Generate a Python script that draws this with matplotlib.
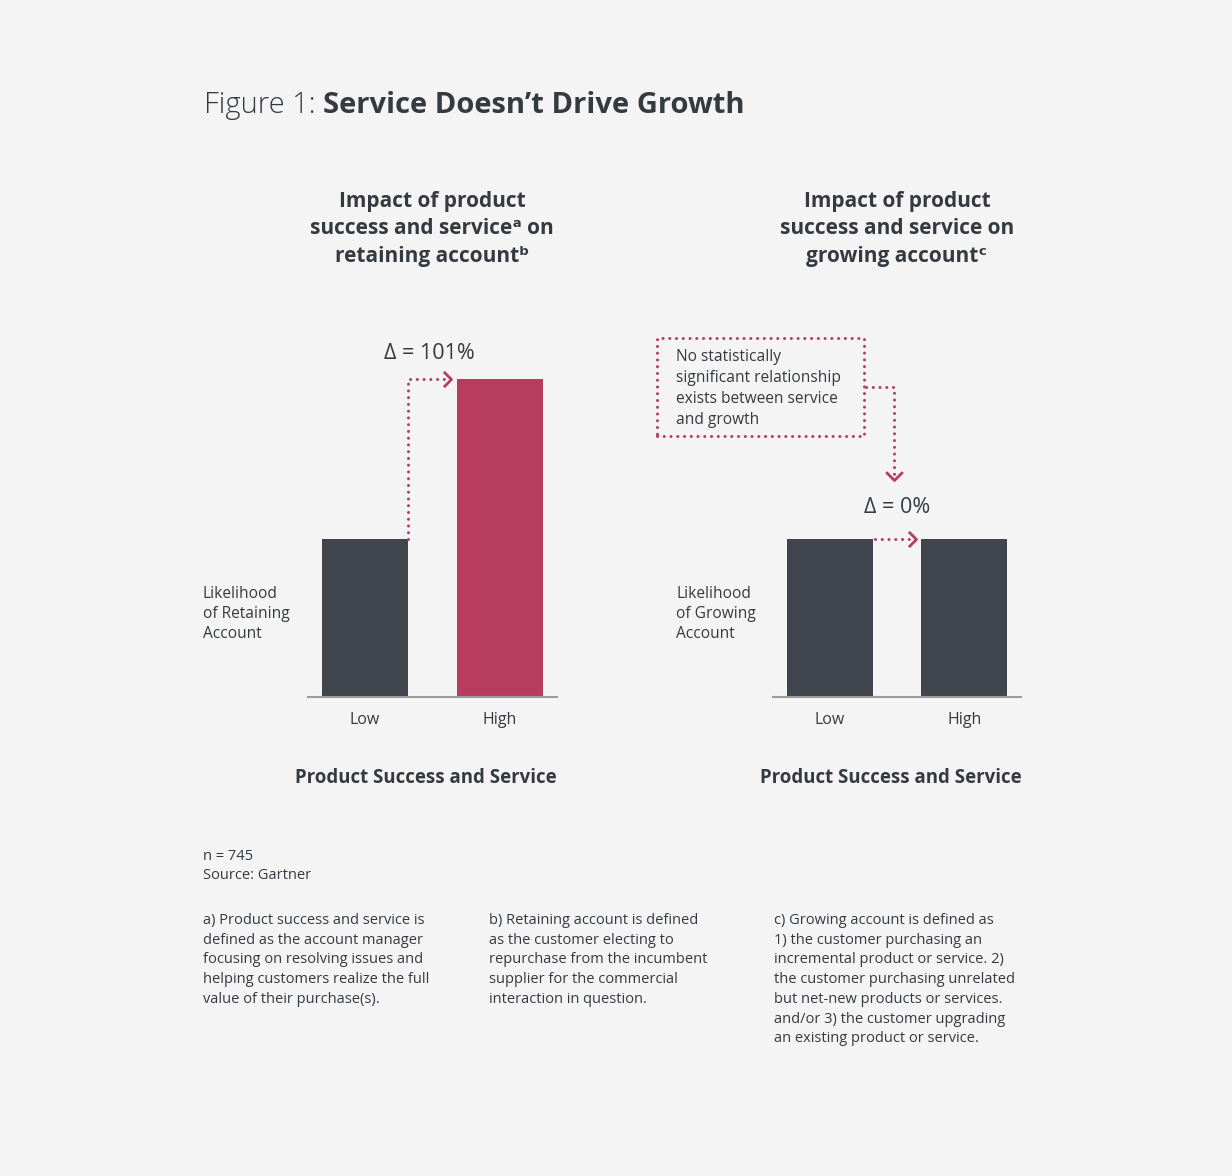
import matplotlib
matplotlib.use('Agg')
import matplotlib.pyplot as plt
from matplotlib.patches import Rectangle
from matplotlib.path import Path
from matplotlib.markers import MarkerStyle

# data
categories = ['Low', 'High']
retain_values = [1.00, 2.01]
grow_values = [1.00, 1.00]

BG = '#f4f4f4'
DARK = '#40444c'
RED = '#b83c5e'
TXT = '#353a40'
AXIS = '#9c9c9c'

W, H = 1232, 1176
plt.rcParams['font.family'] = ['Open Sans', 'DejaVu Sans']
plt.rcParams['text.color'] = TXT


def fx(px):
    return px / W


def fy(py):
    return 1 - py / H


DOTS = (0, (0.01, 2.2))
chev_right = MarkerStyle(Path([(-1, 1), (0, 0), (-1, -1)],
                              [Path.MOVETO, Path.LINETO, Path.LINETO]))
chev_down = MarkerStyle(Path([(-1, 1), (0, 0), (1, 1)],
                             [Path.MOVETO, Path.LINETO, Path.LINETO]))

fig = plt.figure(figsize=(W / 100, H / 100), dpi=100, facecolor=BG)

bar_width = 0.64
ylim_top = 2.32
xl = (-0.422, 1.422)


def make_axes(left_px, right_px, values, colors):
    ax = fig.add_axes([fx(left_px), fy(697), (right_px - left_px) / W, (697 - 330) / H])
    ax.set_facecolor('none')
    x = list(range(len(values)))
    ax.bar(x, values, width=bar_width, color=colors)
    ax.set_xlim(*xl)
    ax.set_ylim(0, ylim_top)
    for s in ['top', 'right', 'left']:
        ax.spines[s].set_visible(False)
    ax.spines['bottom'].set_color(AXIS)
    ax.spines['bottom'].set_linewidth(1.5)
    ax.set_yticks([])
    ax.set_xticks(x)
    ax.set_xticklabels(categories)
    ax.tick_params(axis='x', length=0, pad=11, labelsize=11.5, labelcolor=TXT)
    return ax


ax1 = make_axes(308, 557, retain_values, [DARK, RED])
ax2 = make_axes(773, 1021, grow_values, [DARK, DARK])

# title
t1 = fig.text(fx(204), fy(120), 'Figure 1: ', fontsize=21, fontweight='light',
              ha='left', va='bottom')
ax1.annotate('Service Doesn\u2019t Drive Growth', xy=(1, 0), xycoords=t1,
             fontsize=21, fontweight='bold', ha='left', va='bottom',
             annotation_clip=False)

# panel titles
fig.text(fx(432), fy(229), 'Impact of product\nsuccess and service\u1d43 on\nretaining account\u1d47',
         ha='center', va='center', fontsize=15, fontweight='bold', linespacing=1.4)
fig.text(fx(897), fy(229), 'Impact of product\nsuccess and service on\ngrowing account\u1d9c',
         ha='center', va='center', fontsize=15, fontweight='bold', linespacing=1.4)

# y labels
fig.text(fx(203), fy(614), 'Likelihood\nof Retaining\nAccount', ha='left', va='center',
         fontsize=11.2, linespacing=1.35)
fig.text(fx(676), fy(614), 'Likelihood\nof Growing\nAccount', ha='left', va='center',
         fontsize=11.2, linespacing=1.35)

# x titles
fig.text(fx(426), fy(778), 'Product Success and Service', ha='center', va='center',
         fontsize=13.4, fontweight='bold')
fig.text(fx(891), fy(778), 'Product Success and Service', ha='center', va='center',
         fontsize=13.4, fontweight='bold')

# left panel arrow and delta
low, high = retain_values
edge = bar_width / 2
tip = 1 - edge - 0.04
ax1.plot([edge, edge, tip - 0.03], [low, high, high], color=RED, lw=2.2,
         linestyle=DOTS, dash_capstyle='round', clip_on=False)
ax1.plot([tip], [high], marker=chev_right, markersize=11, markerfacecolor='none',
         markeredgecolor=RED, markeredgewidth=2, clip_on=False)
d1 = (high / low - 1) * 100
ax1.text(0.48, high + 0.16, f'\u0394 = {d1:.0f}%', ha='center', va='center', fontsize=15.5)

# right panel arrow and delta
low2, high2 = grow_values
ax2.plot([edge + 0.02, tip - 0.03], [low2, high2], color=RED, lw=2.2,
         linestyle=DOTS, dash_capstyle='round', clip_on=False)
ax2.plot([tip], [high2], marker=chev_right, markersize=11, markerfacecolor='none',
         markeredgecolor=RED, markeredgewidth=2, clip_on=False)
d2 = (high2 / low2 - 1) * 100
ax2.text(0.5, high2 + 0.197, f'\u0394 = {d2:.0f}%', ha='center', va='center', fontsize=15.5)

# note box
box = Rectangle((fx(657), fy(436)), (864 - 657) / W, (436 - 338) / H,
                transform=fig.transFigure, fill=False, edgecolor=RED, lw=2.2,
                linestyle=DOTS, capstyle='round')
fig.patches.append(box)
fig.text(fx(676), fy(388.5), 'No statistically\nsignificant relationship\nexists between service\nand growth',
         ha='left', va='center', fontsize=11.2, linespacing=1.4)

# connector from box to delta label
bx, by = ax2.transData.inverted().transform(fig.transFigure.transform((fx(866), fy(387))))
cx = 0.48
ctip = high2 + 0.37
ax2.plot([bx, cx, cx], [by, by, ctip + 0.04], color=RED, lw=2.2,
         linestyle=DOTS, dash_capstyle='round', clip_on=False)
ax2.plot([cx], [ctip], marker=chev_down, markersize=12, markerfacecolor='none',
         markeredgecolor=RED, markeredgewidth=2, clip_on=False)

# footnotes
fig.text(fx(203), fy(866), 'n = 745\nSource: Gartner', ha='left', va='center',
         fontsize=10.5, linespacing=1.4)
notes = [
    'a) Product success and service is\ndefined as the account manager\nfocusing on resolving issues and\nhelping customers realize the full\nvalue of their purchase(s).',
    'b) Retaining account is defined\nas the customer electing to\nrepurchase from the incumbent\nsupplier for the commercial\ninteraction in question.',
    'c) Growing account is defined as\n1) the customer purchasing an\nincremental product or service. 2)\nthe customer purchasing unrelated\nbut net-new products or services.\nand/or 3) the customer upgrading\nan existing product or service.',
]
for xp, note in zip([203, 489, 774], notes):
    fig.text(fx(xp), fy(913), note, ha='left', va='top', fontsize=10.5, linespacing=1.43)

plt.savefig('out.png', dpi=100, facecolor=BG)
plt.close(fig)
